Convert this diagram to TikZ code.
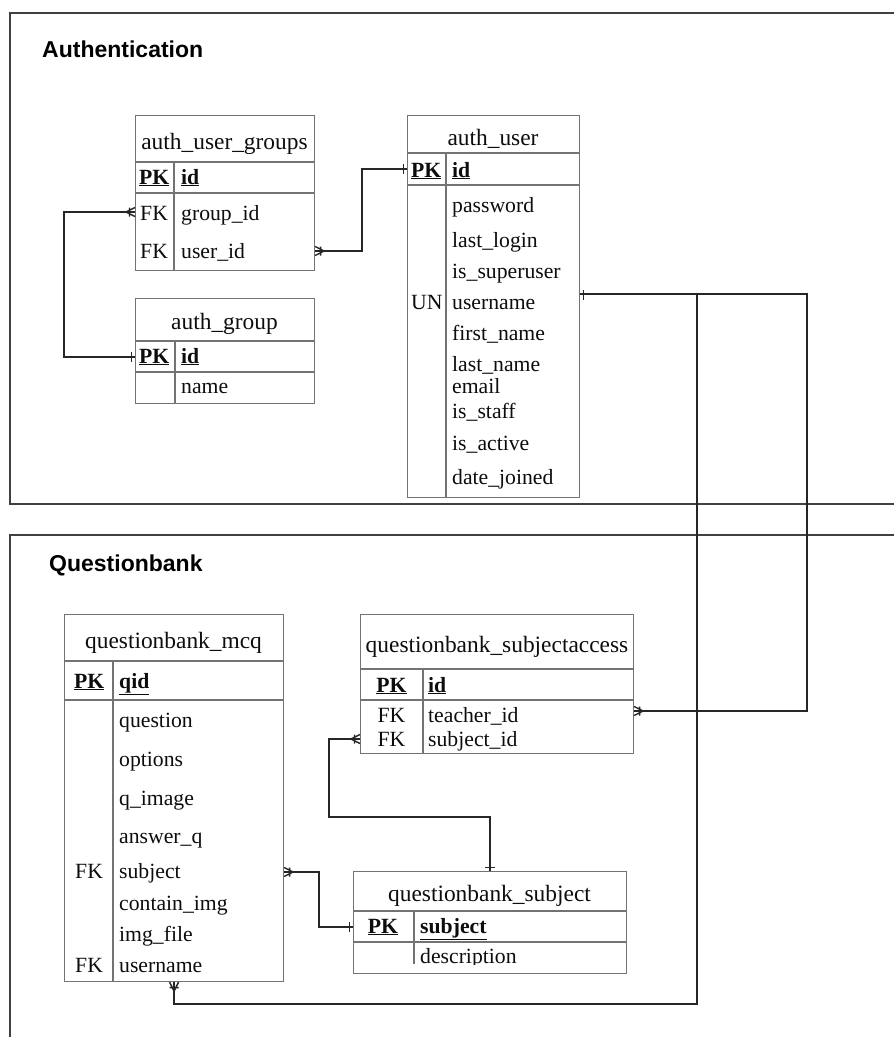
\documentclass[tikz,border=0pt]{standalone}
\usepackage{fontspec}
\setmainfont{Liberation Serif}
\newfontfamily\titlefont{Liberation Sans}
\usetikzlibrary{calc}
\begin{document}
\begin{tikzpicture}[x=1pt,y=-1pt,
  frame/.style={draw=black!75, line width=1.6pt},
  tbl/.style={draw=black!55, line width=1.1pt, anchor=north west, inner sep=0pt},
  rule/.style={draw=black!55, line width=1.1pt},
  conn/.style={draw=black!85, line width=1.6pt},
  cell/.style={inner sep=0pt, anchor=base west, text=black!95, font=\fontsize{21.7}{24}\selectfont},
  head/.style={cell, anchor=base, font=\fontsize{23.4}{26}\selectfont},
  ccell/.style={cell, anchor=base},
  key/.style={cell, font=\fontsize{21.7}{24}\selectfont\bfseries},
  ckey/.style={key, anchor=base},
  title/.style={inner sep=0pt, anchor=base west, font=\titlefont\bfseries\fontsize{23}{26}\selectfont},
  pics/many/.style={code={\draw[line width=1.4pt, black!85] (0,-4.5) -- (9,0) -- (0,4.5) (5.5,-4.5) -- (5.5,4.5);}},
  pics/one/.style={code={\draw[line width=1.4pt, black!85] (3.5,-5) -- (3.5,5);}}
]
\fill[white] (0,0) rectangle (894,1037);
\useasboundingbox (0,0) rectangle (894,1037);

% group frames
\draw[frame] (894,13) -- (10,13) -- (10,504) -- (894,504);
\draw[frame] (894,535) -- (10,535) -- (10,1037);
\node[title] (t-auth) at (42,57) {Authentication};
\node[title] (t-qb) at (49,571) {Questionbank};

% auth_user_groups
\node[tbl, minimum width=179, minimum height=155] (aug) at (135,115) {};
\draw[rule] (135,162) -- (314,162) (135,193) -- (314,193) (174,162) -- (174,270);
\node[head] (aug-h) at (224.5,149) {auth\_user\_groups};
\node[key] (aug-pk) at (139,184) {\underline{PK}};
\node[key] (aug-id) at (181,184) {\underline{id}};
\node[cell] (aug-fk1) at (140,220) {FK};
\node[cell] (aug-gid) at (181,220) {group\_id};
\node[cell] (aug-fk2) at (140,258) {FK};
\node[cell] (aug-uid) at (181,258) {user\_id};

% auth_group
\node[tbl, minimum width=179, minimum height=105] (ag) at (135,298) {};
\draw[rule] (135,341) -- (314,341) (135,372) -- (314,372) (175,341) -- (175,403);
\node[head] (ag-h) at (224.5,329) {auth\_group};
\node[key] (ag-pk) at (139,363) {\underline{PK}};
\node[key] (ag-id) at (181,363) {\underline{id}};
\node[cell] (ag-name) at (181,393) {name};

% auth_user
\node[tbl, minimum width=172, minimum height=382] (au) at (407,115) {};
\draw[rule] (407,153) -- (579,153) (407,185) -- (579,185) (446,153) -- (446,497);
\node[head] (au-h) at (493,145) {auth\_user};
\node[key] (au-pk) at (411,177) {\underline{PK}};
\node[key] (au-id) at (452,177) {\underline{id}};
\node[cell] (au-pw) at (452,212) {password};
\node[cell] (au-ll) at (452,247) {last\_login};
\node[cell] (au-su) at (452,278) {is\_superuser};
\node[cell] (au-un) at (411,309) {UN};
\node[cell] (au-uname) at (452,309) {username};
\node[cell] (au-fn) at (452,340) {first\_name};
\node[cell] (au-ln) at (452,371) {last\_name};
\node[cell] (au-em) at (452,393) {email};
\node[cell] (au-st) at (452,418) {is\_staff};
\node[cell] (au-ac) at (452,450) {is\_active};
\node[cell] (au-dj) at (452,484) {date\_joined};

% questionbank_mcq
\node[tbl, minimum width=219, minimum height=367] (mcq) at (64,614) {};
\draw[rule] (64,661) -- (283,661) (64,700) -- (283,700) (113,661) -- (113,981);
\node[head] (mcq-h) at (173.5,648) {questionbank\_mcq};
\node[key] (mcq-pk) at (74,688) {\underline{PK}};
\node[key] (mcq-qid) at (119,688) {\underline{qid}};
\node[cell] (mcq-q) at (119,727) {question};
\node[cell] (mcq-o) at (119,766) {options};
\node[cell] (mcq-qi) at (119,805) {q\_image};
\node[cell] (mcq-a) at (119,843) {answer\_q};
\node[cell] (mcq-fk1) at (75,878) {FK};
\node[cell] (mcq-s) at (119,878) {subject};
\node[cell] (mcq-ci) at (119,910) {contain\_img};
\node[cell] (mcq-if) at (119,941) {img\_file};
\node[cell] (mcq-fk2) at (75,972) {FK};
\node[cell] (mcq-u) at (119,972) {username};

% questionbank_subjectaccess
\node[tbl, minimum width=273, minimum height=139] (sa) at (360,614) {};
\draw[rule] (360,669) -- (633,669) (360,700) -- (633,700) (423,669) -- (423,753);
\node[head] (sa-h) at (497,652) {questionbank\_subjectaccess};
\node[ckey] (sa-pk) at (391.5,692) {\underline{PK}};
\node[key] (sa-id) at (428,692) {\underline{id}};
\node[ccell] (sa-fk1) at (391.5,722) {FK};
\node[cell] (sa-t) at (428,722) {teacher\_id};
\node[ccell] (sa-fk2) at (391.5,746) {FK};
\node[cell] (sa-s) at (428,746) {subject\_id};

% questionbank_subject
\node[tbl, minimum width=273, minimum height=102] (sub) at (353,871) {};
\draw[rule] (353,911) -- (626,911) (353,942) -- (626,942) (414,911) -- (414,964);
\node[head] (sub-h) at (489.5,901) {questionbank\_subject};
\node[ckey] (sub-pk) at (383,933) {\underline{PK}};
\node[key] (sub-s) at (420,933) {\underline{subject}};
\begin{scope}
  \clip (353,942) rectangle (626,964);
  \node[cell] (sub-d) at (420,963) {description};
\end{scope}

% relationships
\draw[conn] ($(aug.north west)+(0,97)$) -- ++(-71,0) |- ($(ag.north west)+(0,59)$);
\pic[rotate=180] at ($(aug.north west)+(0,97)$) {many};
\pic[rotate=180] at ($(ag.north west)+(0,59)$) {one};

\draw[conn] ($(aug.north east)+(0,136)$) -- ++(47,0) |- ($(au.north west)+(0,54)$);
\pic at ($(aug.north east)+(0,136)$) {many};
\pic[rotate=180] at ($(au.north west)+(0,54)$) {one};

\draw[conn] ($(au.north east)+(0,179)$) -- ++(227,0) |- ($(sa.north east)+(0,97)$);
\pic at ($(au.north east)+(0,180)$) {one};
\pic at ($(sa.north east)+(0,97)$) {many};

\draw[conn] ($(au.north east)+(117,179)$) |- ($(mcq.south)+(0,22)$) -- (mcq.south);
\pic[rotate=270] at (mcq.south) {many};

\draw[conn] ($(mcq.north east)+(0,258)$) -- ++(35,0) |- ($(sub.north west)+(0,56)$);
\pic at ($(mcq.north east)+(0,258)$) {many};
\pic[rotate=180] at ($(sub.north west)+(0,56)$) {one};

\draw[conn] (sub.north) -- ++(0,-54) -- ++(-161,0) |- ($(sa.north west)+(0,125)$);
\pic[rotate=90] at (sub.north) {one};
\pic[rotate=180] at ($(sa.north west)+(0,125)$) {many};
\end{tikzpicture}
\end{document}
